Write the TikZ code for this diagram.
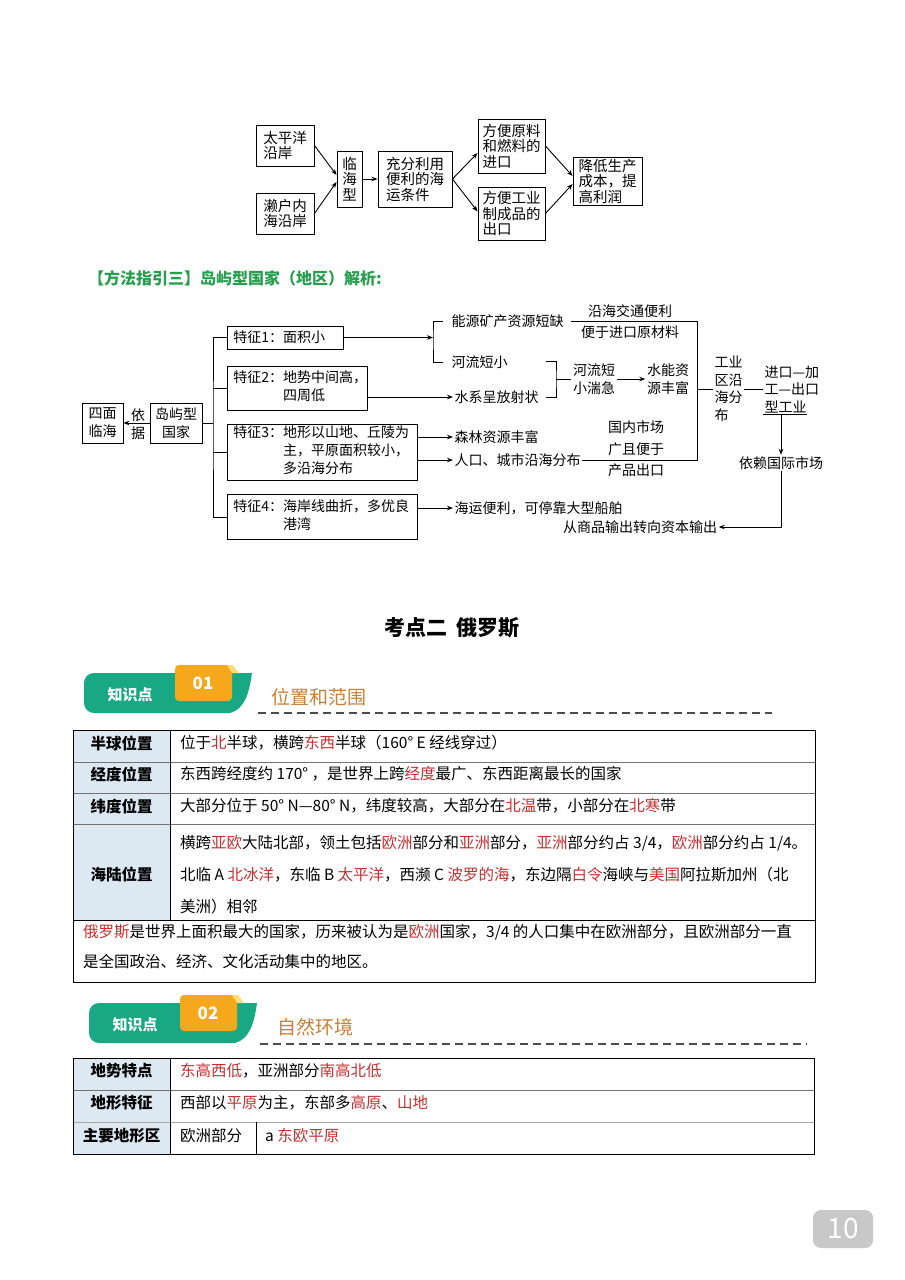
\documentclass[tikz,border=0pt]{standalone}
\usepackage{fontspec}
\setmainfont{Noto Sans CJK SC}
\usetikzlibrary{arrows.meta,calc}
\newcommand\fz[2]{\fontsize{#1}{#2}\selectfont}
\definecolor{redc}{RGB}{196,48,48}
\definecolor{hdgreen}{RGB}{38,158,78}
\definecolor{badgegreen}{RGB}{24,168,132}
\definecolor{badgeorange}{RGB}{246,168,28}
\definecolor{foldyellow}{RGB}{252,222,120}
\definecolor{sectitle}{RGB}{200,128,52}
\definecolor{cellblue}{RGB}{220,233,242}
\definecolor{pgray}{RGB}{200,200,200}
\newcommand\hl[1]{\textcolor{redc}{#1}}
\begin{document}
\begin{tikzpicture}[x=1pt,y=-1pt,
 ln/.style={line width=0.9pt},
 arr/.style={line width=0.9pt,-{Stealth[length=6pt,width=4.5pt]}},
 fbox/.style={draw,line width=0.9pt,inner sep=0pt,align=left,font=\fz{14.5}{15.5}},
 fb/.style={draw,line width=0.9pt,inner xsep=6pt,inner ysep=0pt,align=left,anchor=west,font=\fz{14}{18}},
 dbox/.style={draw,line width=0.9pt,inner sep=0pt,align=center,font=\fz{14}{18}},
 plain/.style={inner sep=1.5pt,font=\fz{14}{18}},
 lab/.style={inner sep=0pt,font=\fz{15.5}{18}\bfseries},
 body/.style={anchor=west,inner sep=0pt,font=\fz{15.5}{18}},
 tline/.style={line width=0.8pt,draw=black!55},
 dashline/.style={line width=1.4pt,draw=black!70,dash pattern=on 8pt off 5pt},
 bwhite/.style={text=white,inner sep=0pt}
]
\useasboundingbox (0,0) rectangle (905,1280);
\fill[white] (0,0) rectangle (905,1280);

% ---------- top flowchart ----------
\node[fbox,minimum width=58pt,minimum height=41pt] (a1) at (285,145.5) {太平洋\\沿岸};
\node[fbox,minimum width=58pt,minimum height=41pt] (a2) at (285,213.5) {濑户内\\海沿岸};
\node[fbox,minimum width=25pt,minimum height=56pt] (a3) at (349.5,179) {临\\海\\型};
\node[fbox,minimum width=74pt,minimum height=56pt] (a4) at (415,179) {充分利用\\便利的海\\运条件};
\node[fbox,minimum width=67pt,minimum height=54pt] (a5) at (511.5,146) {方便原料\\和燃料的\\进口};
\node[fbox,minimum width=67pt,minimum height=53pt] (a6) at (511.5,213.5) {方便工业\\制成品的\\出口};
\node[fbox,minimum width=69pt,minimum height=48pt] (a7) at (607.5,181) {降低生产\\成本，提\\高利润};
\draw[arr] (a1.east) -- ($(a3.west)+(0,-4)$);
\draw[arr] (a2.east) -- ($(a3.west)+(0,3)$);
\draw[arr] (a3.east) -- (a4.west);
\draw[arr] (a4.east) -- ($(a5.west)+(0,7)$);
\draw[arr] (a4.east) -- ($(a6.west)+(0,-2)$);
\draw[arr] (a5.east) -- ($(a7.west)+(0,-5)$);
\draw[arr] (a6.east) -- ($(a7.west)+(0,3)$);

% ---------- heading ----------
\node[anchor=west,inner sep=0pt,font=\fz{16}{18}\bfseries,text=hdgreen] (hd) at (88,278) {【方法指引三】岛屿型国家（地区）解析:};

% ---------- island diagram ----------
\node[dbox,minimum width=41pt,minimum height=40pt] (sm) at (102.5,423) {四面\\临海};
\node[dbox,minimum width=52pt,minimum height=40pt] (dy) at (176,423) {岛屿型\\国家};
\node[plain,align=center] (yj) at (138,424) {依\\据};
\draw[arr] (dy.west) -- (sm.east);
\coordinate (tr) at (213,423);
\node[fb,text width=104pt,minimum height=23pt] (f1) at (227,337.5) {特征1：面积小};
\node[fb,text width=128pt,minimum height=44pt] (f2) at (227,388) {特征2：\begin{tabular}[t]{@{}l@{}}地势中间高，\\四周低\end{tabular}};
\node[fb,text width=178pt,minimum height=56pt] (f3) at (227,452) {特征3：\begin{tabular}[t]{@{}l@{}}地形以山地、丘陵为\\主，平原面积较小，\\多沿海分布\end{tabular}};
\node[fb,text width=178pt,minimum height=45pt] (f4) at (227,517) {特征4：\begin{tabular}[t]{@{}l@{}}海岸线曲折，多优良\\港湾\end{tabular}};
\draw[ln] (dy.east) -- (tr);
\draw[ln] (f1.west) -| (tr) |- (f4.west);
\draw[ln] (tr |- f2.west) -- (f2.west);
\draw[ln] (tr |- f3.west) -- (f3.west);

\node[plain,anchor=west] (t1) at (450,321) {能源矿产资源短缺};
\node[plain,anchor=west] (t2) at (450,362) {河流短小};
\coordinate (bk) at (433,337.5);
\draw[ln] ($(t1.west)+(-7,0)$) -| (bk) |- ($(t2.west)+(-7,0)$);
\draw[arr] (f1.east) -- (bk);
\node[plain,anchor=west] (t3) at (453,397) {水系呈放射状};
\node[plain,anchor=west] (t4) at (453,437) {森林资源丰富};
\node[plain,anchor=west] (t5) at (453,460) {人口、城市沿海分布};
\node[plain,anchor=west] (t6) at (453,508) {海运便利，可停靠大型船舶};
\draw[arr] (f2.east |- t3.west) -- (t3.west);
\draw[arr] (f3.east |- t4.west) -- (t4.west);
\draw[arr] (f3.east |- t5.west) -- (t5.west);
\draw[arr] (f4.east |- t6.west) -- (t6.west);

\node[plain] (t7) at (630,311) {沿海交通便利};
\node[plain] (t8) at (630,332) {便于进口原材料};
\coordinate (vt) at (697,321);
\coordinate (vb) at (697,460);
\draw[ln] ($(t1.east)+(6,0)$) -- (vt) -- (vb) -- (t5.east);

\coordinate (rbt) at (546,361);
\coordinate (rbb) at (546,397);
\coordinate (rb) at (556,379);
\draw[ln] (rbt) -| (rb) |- (rbb);
\node[plain,align=center] (t9) at (594,379) {河流短\\小湍急};
\node[plain,align=center] (t10) at (668,379) {水能资\\源丰富};
\draw[ln] (rb) -- (t9.west);
\draw[arr] (t9.east) -- (t10.west);

\node[plain,anchor=west,align=left,font=\fz{14}{17.5}] (t11) at (713,389) {工业\\区沿\\海分\\布};
\draw[ln] (vt |- t11.west) -- (t11.west);
\node[plain,anchor=west,align=left,font=\fz{14}{17.5}] (t12) at (763,389.5) {进口—加\\工—出口\\型工业};
\draw[ln] (t11.east |- t12.west) -- (t12.west);
\draw[ln] (t12.south west) -- ++(44,0);
\coordinate (ua) at ($(t12.south west)+(18,0)$);
\node[plain] (t13) at (781,463) {依赖国际市场};
\draw[arr] (ua) -- (ua |- t13.north);
\node[plain] (t14) at (640,527) {从商品输出转向资本输出};
\draw[arr] (t13.south) |- (t14.east);
\node[plain,align=center,font=\fz{14}{21.5}] (t15) at (636,449) {国内市场\\广且便于\\产品出口};

% ---------- title ----------
\node[font=\fz{21}{24}\bfseries] (ttl) at (452,628) {考点二\hspace{0.4em}俄罗斯};

% ---------- badge 01 ----------
\begin{scope}[shift={(84,673)}]
\fill[badgegreen,rounded corners=10pt] (0,0) rectangle (150,40);
\fill[badgegreen] (140,0) -- (168,0) .. controls (165,22) and (160,36) .. (146,40) -- (140,40) -- cycle;
\fill[badgeorange,rounded corners=4pt] (91,-8) rectangle (148,28);
\fill[foldyellow] (143,-8) -- (149,-8) -- (155,0) -- (148,0) -- cycle;
\node[bwhite,font=\fz{15}{17}\bfseries] (k1) at (46,22) {知识点};
\node[bwhite,font=\fz{17}{19}\bfseries] (n1) at (119,10) {01};
\end{scope}
\node[anchor=west,inner sep=0pt,font=\fz{19}{21},text=sectitle] (s1) at (271,697) {位置和范围};
\draw[dashline] (258,713) -- (772,713);

% ---------- table 1 ----------
\fill[cellblue] (73,730) rectangle (170,920);
\draw[tline] (73,762) -- (815,762);
\draw[tline] (73,793) -- (815,793);
\draw[tline] (73,824) -- (815,824);
\draw[line width=0.9pt] (73,920) -- (815,920);
\draw[line width=0.9pt] (170,730) -- (170,920);
\draw[line width=0.9pt] (73,730) rectangle (815,982);
\node[lab] (l1) at (121.5,743) {半球位置};
\node[lab] (l2) at (121.5,774) {经度位置};
\node[lab] (l3) at (121.5,806) {纬度位置};
\node[lab] (l4) at (121.5,874) {海陆位置};
\node[body] (b1) at (180,743) {位于\hl{北}半球，横跨\hl{东西}半球（160° E 经线穿过）};
\node[body] (b2) at (180,774) {东西跨经度约 170° ，是世界上跨\hl{经度}最广、东西距离最长的国家};
\node[body] (b3) at (180,806) {大部分位于 50° N—80° N，纬度较高，大部分在\hl{北温}带，小部分在\hl{北寒}带};
\node[body] (b4) at (180,843) {横跨\hl{亚欧}大陆北部，领土包括\hl{欧洲}部分和\hl{亚洲}部分，\hl{亚洲}部分约占 3/4，\hl{欧洲}部分约占 1/4。};
\node[body] (b5) at (180,875) {北临 A \hl{北冰洋}，东临 B \hl{太平洋}，西濒 C \hl{波罗的海}，东边隔\hl{白令}海峡与\hl{美国}阿拉斯加州（北};
\node[body] (b6) at (180,907) {美洲）相邻};
\node[body] (b7) at (83,932) {\hl{俄罗斯}是世界上面积最大的国家，历来被认为是\hl{欧洲}国家，3/4 的人口集中在欧洲部分，且欧洲部分一直};
\node[body] (b8) at (83,962) {是全国政治、经济、文化活动集中的地区。};

% ---------- badge 02 ----------
\begin{scope}[shift={(89,1003)}]
\fill[badgegreen,rounded corners=10pt] (0,0) rectangle (150,40);
\fill[badgegreen] (140,0) -- (168,0) .. controls (165,22) and (160,36) .. (146,40) -- (140,40) -- cycle;
\fill[badgeorange,rounded corners=4pt] (91,-8) rectangle (148,28);
\fill[foldyellow] (143,-8) -- (149,-8) -- (155,0) -- (148,0) -- cycle;
\node[bwhite,font=\fz{15}{17}\bfseries] (k2) at (46,22) {知识点};
\node[bwhite,font=\fz{17}{19}\bfseries] (n2) at (119,10) {02};
\end{scope}
\node[anchor=west,inner sep=0pt,font=\fz{19}{21},text=sectitle] (s2) at (277,1027) {自然环境};
\draw[dashline] (260,1044) -- (807,1044);

% ---------- table 2 ----------
\fill[cellblue] (73,1058) rectangle (170,1154);
\draw[tline] (73,1090) -- (814,1090);
\draw[tline,draw=black!35] (73,1122) -- (814,1122);
\draw[line width=0.9pt] (170,1058) -- (170,1154);
\draw[line width=0.9pt] (256,1122) -- (256,1154);
\draw[line width=0.9pt] (73,1058) rectangle (814,1154);
\node[lab] (m1) at (121.5,1071) {地势特点};
\node[lab] (m2) at (121.5,1103) {地形特征};
\node[lab] (m3) at (121.5,1136) {主要地形区};
\node[body] (c1) at (180,1071) {\hl{东高西低}，亚洲部分\hl{南高北低}};
\node[body] (c2) at (180,1103) {西部以\hl{平原}为主，东部多\hl{高原}、\hl{山地}};
\node[body] (c3) at (180,1136) {欧洲部分};
\node[body] (c4) at (265,1136) {a \hl{东欧平原}};

% ---------- page number ----------
\node[fill=pgray,rounded corners=8pt,minimum width=60pt,minimum height=38pt,text=white,font=\fz{28}{30}] (pg) at (843,1229) {10};
\end{tikzpicture}
\end{document}
